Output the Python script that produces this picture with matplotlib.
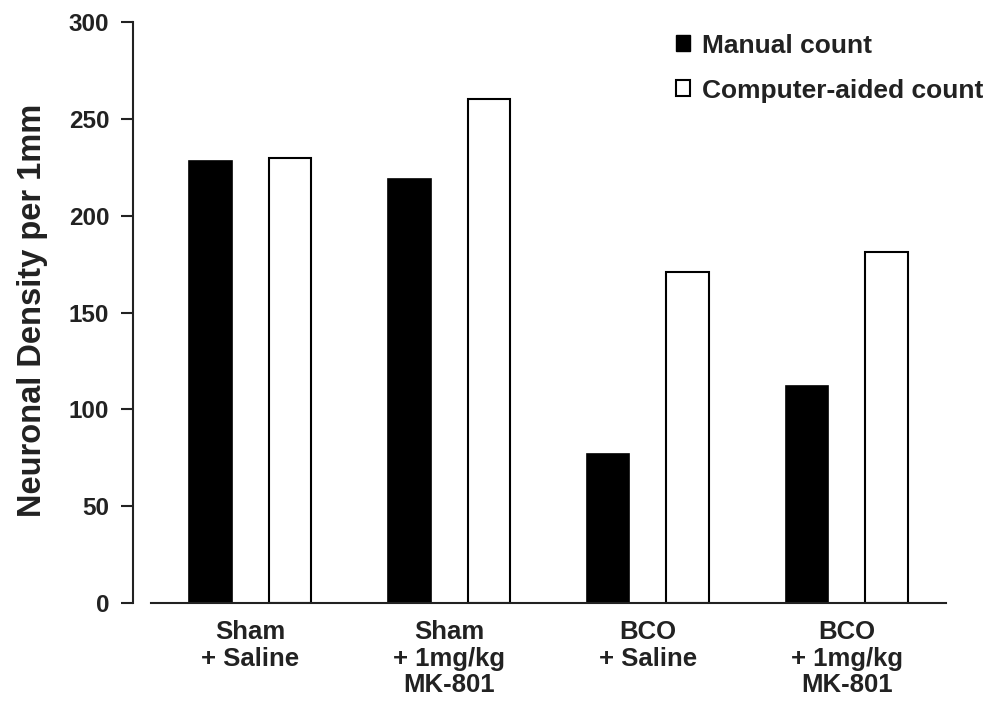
import matplotlib
matplotlib.use("Agg")
import matplotlib.pyplot as plt
import numpy as np
from matplotlib.patches import Patch

categories = ["Sham\n+ Saline", "Sham\n+ 1mg/kg\nMK-801", "BCO\n+ Saline", "BCO\n+ 1mg/kg\nMK-801"]
manual = [228, 219, 77, 112]
computer = [230, 260, 171, 181]
yticks = [0, 50, 100, 150, 200, 250, 300]

plt.rcParams['font.family'] = ['Liberation Sans', 'DejaVu Sans']

fig = plt.figure(figsize=(9.94, 7.08), dpi=100)
ax = fig.add_axes([151/994, 1-603/708, (946-151)/994, (603-22)/708])

for s in ['top', 'right']:
    ax.spines[s].set_visible(False)
ax.spines['left'].set_position(('outward', 13))
ax.spines['left'].set_linewidth(1.5)
ax.spines['bottom'].set_linewidth(1.5)
ax.spines['left'].set_color('#222222')
ax.spines['bottom'].set_color('#222222')

x = np.arange(len(categories))
w = 0.215
ax.bar(x - 0.2, manual, width=w, color='black', edgecolor='black', linewidth=1.2)
ax.bar(x + 0.2, computer, width=w, color='white', edgecolor='black', linewidth=1.5)

ax.set_xlim(-0.5, 3.5)
ax.set_ylim(0, 300)
ax.set_yticks(yticks)
ax.set_xticks(x)
ax.tick_params(axis='x', length=0, pad=12, labelsize=18.5, labelcolor='#222222')
ax.tick_params(axis='y', length=9, width=1.5, direction='out', pad=8, color='#222222',
               labelsize=17.5, labelcolor='#222222')
ax.set_yticklabels([str(t) for t in yticks], fontweight='bold')
ax.set_xticklabels(categories, fontweight='bold', linespacing=1.15)

ax.set_ylabel("Neuronal Density per 1mm", fontsize=23.5, fontweight='bold', color='#222222')
ax.yaxis.set_label_coords(48/994, 1-310/708, transform=fig.transFigure)

handles = [Patch(facecolor='black', edgecolor='black', label='Manual count'),
           Patch(facecolor='white', edgecolor='black', linewidth=1.5, label='Computer-aided count')]
leg = ax.legend(handles=handles, loc='upper left', bbox_to_anchor=(665/994, 1-23/708),
                bbox_transform=fig.transFigure, frameon=False,
                prop={'size': 19, 'weight': 'bold'}, handlelength=0.55, handleheight=0.55,
                handletextpad=0.45, labelspacing=0.8, borderaxespad=0)
for t in leg.get_texts():
    t.set_color('#222222')

fig.savefig("out.png", dpi=100, facecolor='white')
